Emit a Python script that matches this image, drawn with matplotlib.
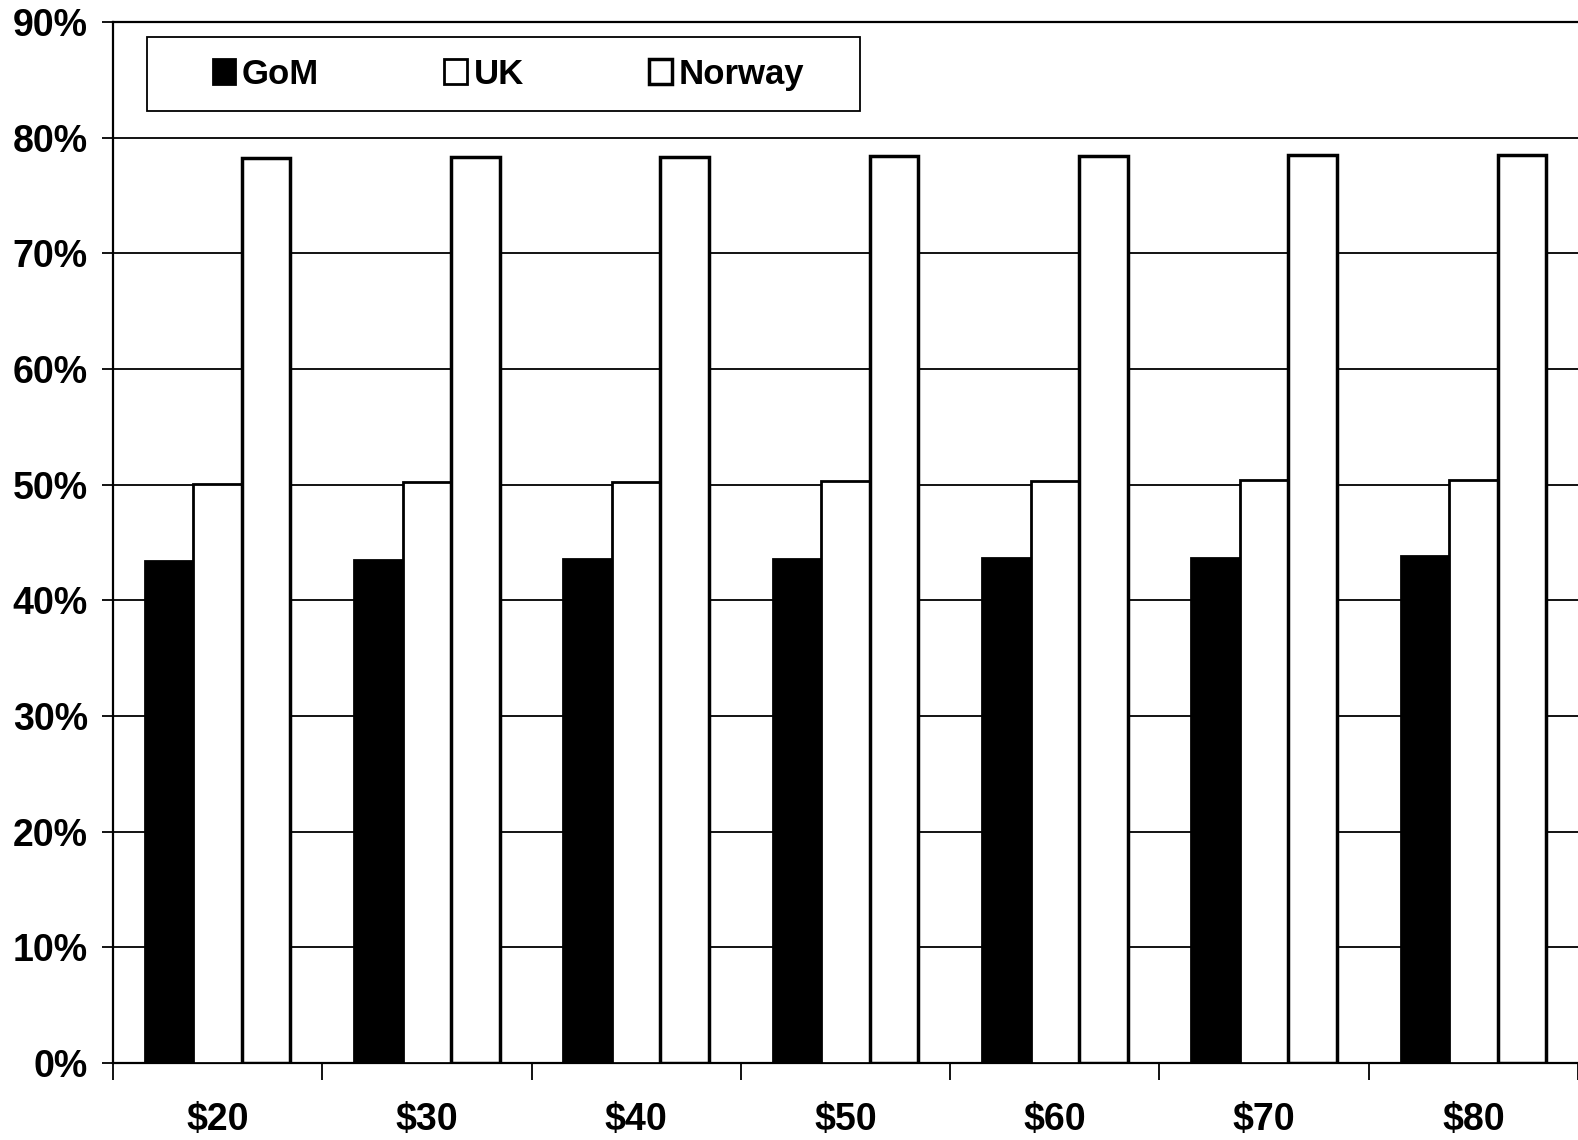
"""Break-even share by oil price: GoM vs UK vs Norway."""
import matplotlib
matplotlib.use("Agg")
import matplotlib.pyplot as plt
import matplotlib.patches as mpatches
import numpy as np

# data
prices = ["$20", "$30", "$40", "$50", "$60", "$70", "$80"]
gom = [43.4, 43.5, 43.6, 43.6, 43.7, 43.7, 43.8]
uk = [50.1, 50.2, 50.2, 50.3, 50.3, 50.4, 50.4]
norway = [78.2, 78.3, 78.3, 78.4, 78.4, 78.5, 78.5]

plt.rcParams['font.family'] = ['Liberation Sans', 'DejaVu Sans']
plt.rcParams['font.weight'] = 'bold'

fig = plt.figure(figsize=(15.78, 11.4), dpi=100)
ax = fig.add_axes([0.0716, 0.0675, 1 - 0.0716, 0.9132])

x = np.arange(len(prices))
w = 0.232
ax.bar(x - w, gom, w, color='black', edgecolor='black', linewidth=2, zorder=3, label='GoM')
ax.bar(x, uk, w, color='white', edgecolor='black', linewidth=2, zorder=3, label='UK')
ax.bar(x + w, norway, w, color='white', edgecolor='black', linewidth=2.5, zorder=3, label='Norway')

ax.set_ylim(0, 90)
ax.set_xlim(-0.5, 6.38)
ax.set_yticks(range(0, 91, 10))
ax.set_yticklabels([f"{v}%" for v in range(0, 91, 10)], fontsize=27, fontweight='bold')
ax.yaxis.grid(True, color='black', linewidth=1.3, zorder=0)
ax.set_axisbelow(True)

# category labels centred, ticks at the group boundaries
ax.set_xticks(x)
ax.set_xticklabels(prices, fontsize=27, fontweight='bold')
ax.set_xticks(np.arange(-0.5, 7, 1), minor=True)
ax.tick_params(axis='x', which='major', length=0, pad=28)
ax.tick_params(axis='x', which='minor', length=12, width=1.3, direction='out')
ax.tick_params(axis='y', length=8, width=1.3, pad=10)

for s in ['left', 'bottom', 'top']:
    ax.spines[s].set_linewidth(1.6)
ax.spines['right'].set_visible(False)

# legend box drawn by hand (wider left margin than matplotlib gives)
box = mpatches.Rectangle((0.0232, 0.9145), 0.487, 0.0711, transform=ax.transAxes,
                         facecolor='white', edgecolor='black', linewidth=1.3, zorder=4)
ax.add_patch(box)
leg = ax.legend(loc='center left', bbox_to_anchor=(0.068, 0.950), ncol=3,
                fontsize=25, frameon=False, handlelength=0.65, handleheight=0.75,
                handletextpad=0.2, columnspacing=3.6, borderpad=0, borderaxespad=0)
leg.set_zorder(5)
for t in leg.get_texts():
    t.set_fontweight('bold')

plt.savefig('out.png', dpi=100)
plt.close()
